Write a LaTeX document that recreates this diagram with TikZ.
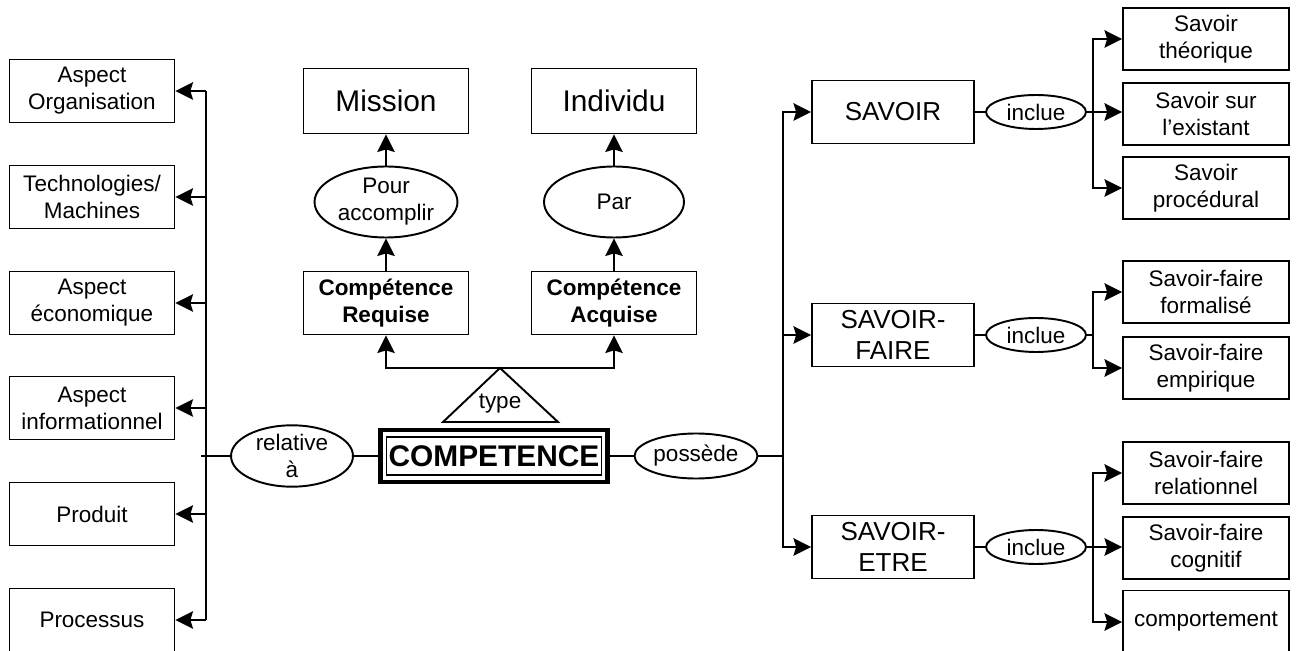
\documentclass[tikz,border=0pt]{standalone}
\usepackage{fontspec}
\setmainfont{Liberation Sans}
\usetikzlibrary{shapes.geometric, arrows.meta}

\begin{document}
\begin{tikzpicture}[
    x=0.02cm, y=-0.02cm,
    box/.style={rectangle, draw=black, line width=1.1pt, minimum width=3.3cm, minimum height=1.26cm, align=center, inner sep=1pt, font=\fontsize{12.8}{15.3}\selectfont},
    bigbox/.style={box, minimum width=3.24cm, font=\fontsize{14.8}{17.5}\selectfont},
    relation/.style={ellipse, draw=black, line width=1.1pt, align=center, inner sep=0pt, font=\fontsize{12.8}{15.3}\selectfont},
    link/.style={line width=1.1pt},
    arrow/.style={-{Stealth[length=10pt, width=10pt, inset=1.5pt]}, line width=1.1pt}
]
\useasboundingbox (0,0) rectangle (1298,651);

% Left column
\node[box] (org) at (92,91) {Aspect\\Organisation};
\node[box] (tech) at (92,197) {Technologies/\\Machines};
\node[box] (eco) at (92,303) {Aspect\\économique};
\node[box] (info) at (92,408) {Aspect\\informationnel};
\node[box] (prod) at (92,514) {Produit};
\node[box] (proc) at (92,620) {Processus};

% Center
\node[relation, minimum width=2.44cm, minimum height=1.1cm] (rel) at (292,456) {relative\\à};
\node[draw=black, line width=2.8pt, minimum width=4.54cm, minimum height=1.04cm] (compframe) at (494,456) {};
\node[draw=black, line width=0.8pt, minimum width=4.3cm, minimum height=0.76cm, inner sep=0pt, font=\fontsize{17}{20}\selectfont\bfseries] (comp) at (494,456) {COMPETENCE};
\node[relation, minimum width=2.46cm, minimum height=0.9cm] (possede) at (696,456) {possède};

% Type
\coordinate (tapex) at (500,368);
\draw[link] (tapex) -- (558,422) -- (443,422) -- cycle;
\node[font=\fontsize{12.8}{15.3}\selectfont, inner sep=0pt] (type) at (500,404) {type};

\node[box, font=\fontsize{12.8}{15.3}\selectfont\bfseries] (requise) at (386,303) {Compétence\\Requise};
\node[box, font=\fontsize{12.8}{15.3}\selectfont\bfseries] (acquise) at (614,303) {Compétence\\Acquise};
\node[relation, minimum width=2.86cm, minimum height=1.42cm] (pour) at (386,202) {Pour\\accomplir};
\node[relation, minimum width=2.8cm, minimum height=1.42cm] (par) at (614,202) {Par};
\node[box, minimum height=1.3cm, font=\fontsize{17}{20}\selectfont] (mission) at (386,101) {Mission};
\node[box, minimum height=1.3cm, font=\fontsize{17}{20}\selectfont] (indiv) at (614,101) {Individu};

% Right: savoir types
\node[bigbox] (savoir) at (893,112) {SAVOIR};
\node[bigbox] (sfaire) at (893,335) {SAVOIR-\\FAIRE};
\node[bigbox] (setre) at (893,547) {SAVOIR-\\ETRE};

\node[relation, minimum width=2cm, minimum height=0.68cm] (incl1) at (1036,112) {inclue};
\node[relation, minimum width=2cm, minimum height=0.68cm] (incl2) at (1036,335) {inclue};
\node[relation, minimum width=2cm, minimum height=0.68cm] (incl3) at (1036,547) {inclue};

\node[box, minimum width=3.32cm, minimum height=1.24cm] (theo) at (1206,39) {Savoir\\théorique};
\node[box, minimum width=3.32cm, minimum height=1.24cm] (exist) at (1206,114) {Savoir sur\\l'existant};
\node[box, minimum width=3.32cm, minimum height=1.24cm] (proced) at (1206,188) {Savoir\\procédural};
\node[box, minimum width=3.32cm, minimum height=1.24cm] (formal) at (1206,292) {Savoir-faire\\formalisé};
\node[box, minimum width=3.32cm, minimum height=1.24cm] (empir) at (1206,368) {Savoir-faire\\empirique};
\node[box, minimum width=3.32cm, minimum height=1.24cm] (relat) at (1206,473) {Savoir-faire\\relationnel};
\node[box, minimum width=3.32cm, minimum height=1.24cm] (cogn) at (1206,548) {Savoir-faire\\cognitif};
\node[box, minimum width=3.32cm, minimum height=1.26cm] (compo) at (1206,622) {comportement};

% Bus points
\coordinate (lbus) at (206,456);
\coordinate (lstub) at (201,456);
\coordinate (rbus) at (783,456);
\coordinate (sb1) at (1093,112);
\coordinate (sb2) at (1093,335);
\coordinate (sb3) at (1093,547);

% Left arrows
\draw[link] (lbus |- org) -- (lbus |- proc);
\draw[link] (lstub) -- (rel);
\draw[link] (rel) -- (compframe);
\foreach \n in {org, tech, eco, info, prod, proc}
  \draw[arrow] (lbus |- \n) -- (\n.east);

% Center arrows
\draw[arrow] (tapex) -| (requise.south);
\draw[arrow] (tapex) -| (acquise.south);
\draw[arrow] (requise) -- (pour);
\draw[arrow] (pour) -- (mission);
\draw[arrow] (acquise) -- (par);
\draw[arrow] (par) -- (indiv);

% Right arrows
\draw[link] (compframe) -- (possede);
\draw[link] (possede) -- (rbus);
\draw[arrow] (rbus) |- (savoir.west);
\draw[arrow] (rbus) |- (setre.west);
\draw[arrow] (rbus |- sfaire) -- (sfaire.west);

\draw[link] (savoir) -- (incl1);
\draw[link] (incl1) -- (sb1);
\draw[arrow] (sb1) |- (theo.west);
\draw[arrow] (sb1) -- (exist.west |- sb1);
\draw[arrow] (sb1) |- (proced.west);

\draw[link] (sfaire) -- (incl2);
\draw[link] (incl2) -- (sb2);
\draw[arrow] (sb2) |- (formal.west);
\draw[arrow] (sb2) |- (empir.west);

\draw[link] (setre) -- (incl3);
\draw[link] (incl3) -- (sb3);
\draw[arrow] (sb3) |- (relat.west);
\draw[arrow] (sb3) -- (cogn.west |- sb3);
\draw[arrow] (sb3) |- (compo.west);

\end{tikzpicture}
\end{document}
